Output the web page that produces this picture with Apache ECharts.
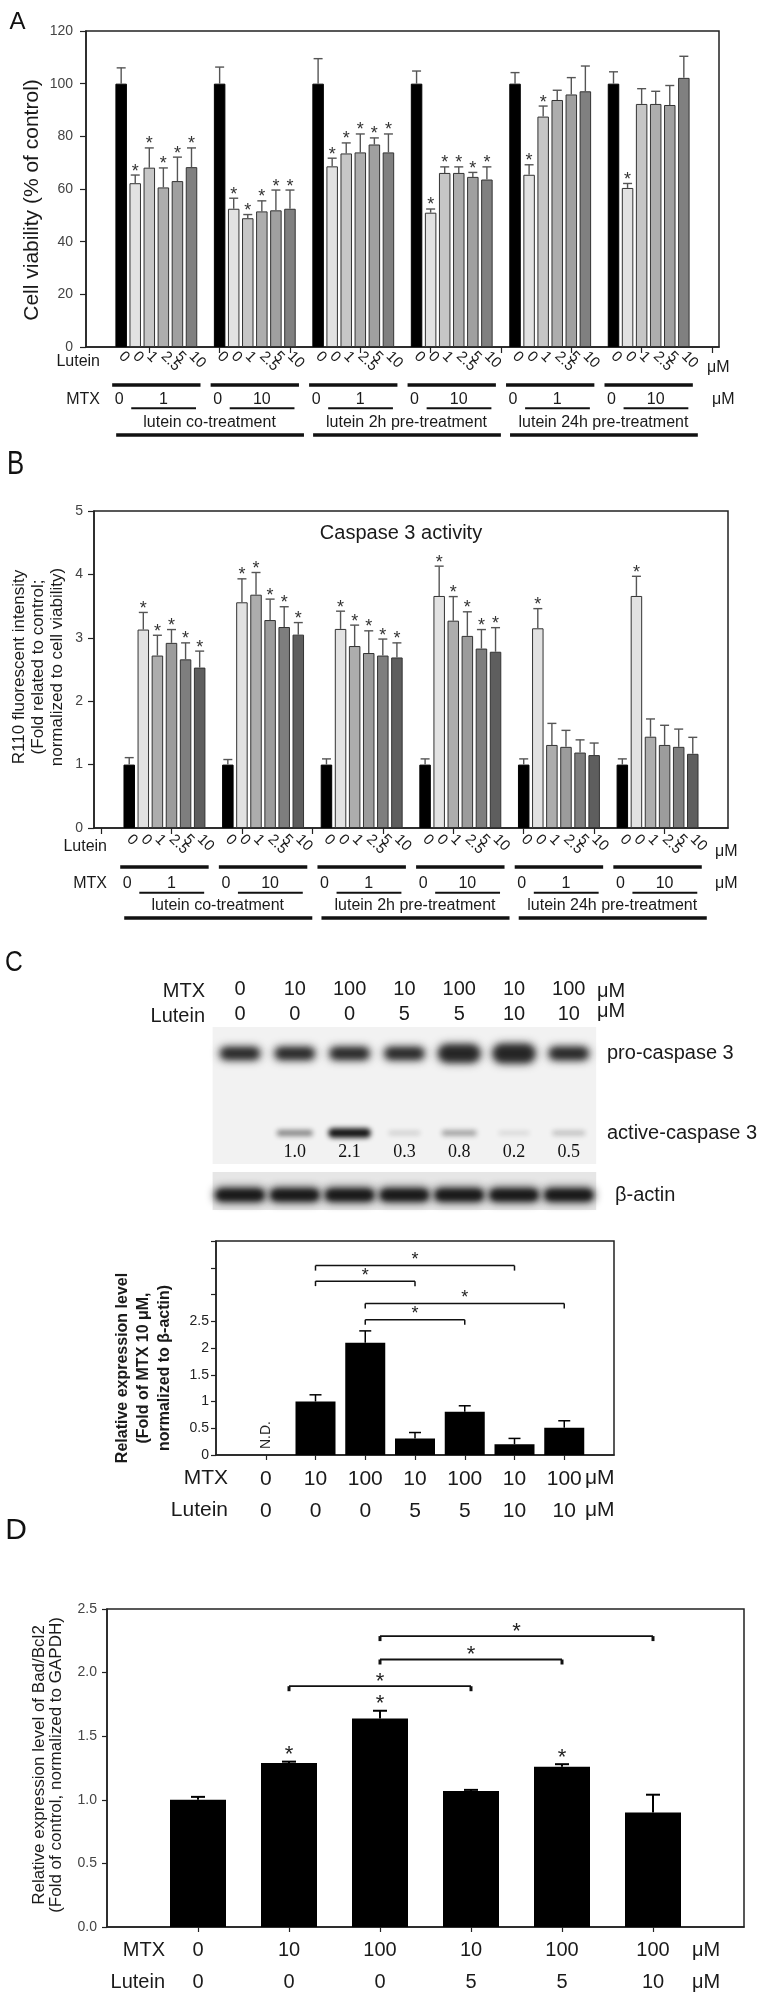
<!DOCTYPE html>
<html><head><meta charset="utf-8">
<script src="https://cdn.jsdelivr.net/npm/echarts@6/dist/echarts.min.js"></script>
<style>html,body{margin:0;padding:0;background:#fff}#c{width:782px;height:1998px}</style>
</head><body><div id="c"></div>
<script>
// ================= DATA =================
// Panels A and B: six groups of six bars (MTX 0 / lutein 0, then MTX with lutein 0,1,2.5,5,10)
const luteinDoses = ['0', '0', '1', '2.5', '5', '10'];
const groupMTX = ['1', '10', '1', '10', '1', '10'];
const treatments = ['lutein co-treatment', 'lutein 2h pre-treatment', 'lutein 24h pre-treatment'];

// A: cell viability (% of control)
const viaCo1 = [100, 62.2, 68.1, 60.6, 63.0, 68.3];
const viaCo1Err = [6.0, 3.1, 7.5, 7.4, 9.1, 7.3];
const viaCo10 = [100, 52.5, 48.9, 51.5, 51.9, 52.5];
const viaCo10Err = [6.3, 4.0, 1.4, 4.0, 7.7, 7.1];
const viaPre2h1 = [100, 68.6, 73.5, 73.9, 76.9, 73.9];
const viaPre2h1Err = [9.5, 3.1, 4.0, 7.0, 2.5, 7.0];
const viaPre2h10 = [100, 51.0, 66.1, 66.1, 64.6, 63.6];
const viaPre2h10Err = [4.8, 1.4, 2.3, 2.3, 1.7, 4.8];
const viaPre24h1 = [100, 65.4, 87.5, 93.8, 95.9, 97.1];
const viaPre24h1Err = [4.2, 3.8, 4.0, 3.7, 6.4, 9.6];
const viaPre24h10 = [100, 60.4, 92.3, 92.3, 91.9, 102.2];
const viaPre24h10Err = [4.5, 1.7, 5.8, 4.8, 7.4, 8.2];
const viaStars = [[0,1,1,1,1,1],[0,1,1,1,1,1],[0,1,1,1,1,1],[0,1,1,1,1,1],[0,1,1,0,0,0],[0,1,0,0,0,0]];

// B: caspase 3 activity (R110 fluorescence, fold of control)
const casCo1 = [1.0, 3.13, 2.72, 2.92, 2.66, 2.53];
const casCo1Err = [0.11, 0.27, 0.32, 0.21, 0.26, 0.26];
const casCo10 = [1.0, 3.56, 3.68, 3.28, 3.17, 3.05];
const casCo10Err = [0.08, 0.37, 0.35, 0.33, 0.32, 0.19];
const casPre2h1 = [1.0, 3.14, 2.87, 2.76, 2.72, 2.69];
const casPre2h1Err = [0.09, 0.28, 0.33, 0.35, 0.26, 0.23];
const casPre2h10 = [1.0, 3.66, 3.27, 3.03, 2.83, 2.78];
const casPre2h10Err = [0.09, 0.47, 0.38, 0.38, 0.30, 0.38];
const casPre24h1 = [1.0, 3.15, 1.31, 1.28, 1.19, 1.15];
const casPre24h1Err = [0.09, 0.31, 0.34, 0.26, 0.20, 0.19];
const casPre24h10 = [1.0, 3.66, 1.44, 1.31, 1.28, 1.17];
const casPre24h10Err = [0.09, 0.31, 0.28, 0.31, 0.28, 0.26];
const casStars = [[0,1,1,1,1,1],[0,1,1,1,1,1],[0,1,1,1,1,1],[0,1,1,1,1,1],[0,1,0,0,0,0],[0,1,0,0,0,0]];

// C: western blot lanes and quantification
const cMTX = ['0', '10', '100', '10', '100', '10', '100'];
const cLutein = ['0', '0', '0', '5', '5', '10', '10'];
const proCaspaseBand = [1.0, 1.0, 1.0, 1.0, 1.6, 1.7, 1.05];
const activeCaspaseBand = [0, 1.0, 2.1, 0.3, 0.8, 0.2, 0.5];
const actinBand = [1, 1, 1, 1, 1, 1, 1];
const cRelExpr = [null, 1.0, 2.1, 0.31, 0.81, 0.2, 0.51];
const cRelExprErr = [0, 0.125, 0.22, 0.11, 0.11, 0.11, 0.13];
const cBrackets = [[1, 5, 3.54], [1, 3, 3.25], [2, 6, 2.83], [2, 4, 2.53]];

// D: Bad/Bcl2
const dMTX = ['0', '10', '100', '10', '100', '100'];
const dLutein = ['0', '0', '0', '5', '5', '10'];
const badBcl2 = [1.0, 1.29, 1.64, 1.07, 1.26, 0.90];
const badBcl2Err = [0.023, 0.01, 0.06, 0.008, 0.02, 0.14];
const badBcl2Star = [0, 1, 1, 0, 1, 0];
const dBrackets = [[1, 3, 1.893], [2, 4, 2.103], [2, 5, 2.287]];

// ================= BUILD =================
const FONT = "'Liberation Sans', Arial, Helvetica, sans-serif";
const SERIF = "'Liberation Serif', 'Times New Roman', serif";
const TXT = '#1a1a1a';
const SLOTS = 45, SLOT0 = 2, GSTEP = 7;
const slotOf = (g, b) => SLOT0 + g * GSTEP + b;
const slotNames = Array.from({length: SLOTS}, (_, i) => 's' + i);
function slotLabel(i) {
  const k = i - SLOT0; if (k < 0) return '';
  const g = Math.floor(k / GSTEP), b = k % GSTEP;
  return (g > 5 || b > 5) ? '' : luteinDoses[b];
}
const groupsA = [viaCo1, viaCo10, viaPre2h1, viaPre2h10, viaPre24h1, viaPre24h10];
const errsA = [viaCo1Err, viaCo10Err, viaPre2h1Err, viaPre2h10Err, viaPre24h1Err, viaPre24h10Err];
const groupsB = [casCo1, casCo10, casPre2h1, casPre2h10, casPre24h1, casPre24h10];
const errsB = [casCo1Err, casCo10Err, casPre2h1Err, casPre2h10Err, casPre24h1Err, casPre24h10Err];
const colorsA = ['#000000', '#e2e2e2', '#c6c6c6', '#adadad', '#a0a0a0', '#808080'];
const colorsB = ['#000000', '#e2e2e2', '#adadad', '#9c9c9c', '#7e7e7e', '#5e5e5e'];

function buildBars(groups, colors) {
  const d = new Array(SLOTS).fill('-');
  groups.forEach((arr, g) => arr.forEach((v, b) => {
    d[slotOf(g, b)] = {value: v, itemStyle: {color: colors[b], borderColor: b === 0 ? '#000' : '#333', borderWidth: 1}};
  }));
  return d;
}
function buildErr(groups, errs, stars) {
  const out = [];
  groups.forEach((arr, g) => arr.forEach((v, b) => out.push([slotOf(g, b), v, errs[g][b], stars[g][b]])));
  return out;
}
function txt(s, x, y, size, align, color, extra) {
  extra = extra || {};
  const o = {type: 'text', x: x, y: y, z: 50,
    style: {text: s, font: (extra.weight ? extra.weight + ' ' : '') + size + 'px ' + (extra.family || FONT),
      fill: color || TXT, align: align || 'center', textAlign: align || 'center',
      verticalAlign: 'middle', textVerticalAlign: 'middle'}};
  if (extra.rotation) o.rotation = extra.rotation;
  if (extra.scaleX) o.scaleX = extra.scaleX;
  if (extra.lineHeight) { o.style.lineHeight = extra.lineHeight; o.style.textLineHeight = extra.lineHeight; }
  return o;
}
function seg(x1, y1, x2, y2, lw, color) {
  return {type: 'line', z: 50, shape: {x1, y1, x2, y2}, style: {stroke: color || '#111', lineWidth: lw}};
}
function errRender(cfg) {
  return function (params, api) {
    const x = api.value(0), v = api.value(1), e = api.value(2), s = api.value(3);
    const p0 = api.coord([x, v]), p1 = api.coord([x, v + e]);
    const ch = [
      {type: 'line', shape: {x1: p0[0], y1: p0[1], x2: p1[0], y2: p1[1]}, style: {stroke: cfg.color, lineWidth: cfg.lw}},
      {type: 'line', shape: {x1: p1[0] - cfg.cap, y1: p1[1], x2: p1[0] + cfg.cap, y2: p1[1]}, style: {stroke: cfg.color, lineWidth: cfg.lw}}
    ];
    if (s) ch.push(txt('*', p1[0], p1[1] - cfg.starGap, cfg.starSize, 'center', cfg.starColor));
    return {type: 'group', children: ch};
  };
}
function bracketRender(cfg) {
  return function (params, api) {
    const a = api.value(0), b = api.value(1), y = api.value(2);
    const p1 = api.coord([a + 1, y]), p2 = api.coord([b + 1, y]);
    return {type: 'group', children: [
      {type: 'line', shape: {x1: p1[0], y1: p1[1], x2: p2[0], y2: p2[1]}, style: {stroke: '#111', lineWidth: cfg.lw}},
      {type: 'line', shape: {x1: p1[0], y1: p1[1], x2: p1[0], y2: p1[1] + cfg.leg}, style: {stroke: '#111', lineWidth: cfg.legLw}},
      {type: 'line', shape: {x1: p2[0], y1: p2[1], x2: p2[0], y2: p2[1] + cfg.leg}, style: {stroke: '#111', lineWidth: cfg.legLw}},
      txt('*', (p1[0] + p2[0]) / 2, p1[1] - cfg.starGap, cfg.starSize, 'center', '#222')
    ]};
  };
}
// blurred blot band: the shape is drawn far off to the left and only its soft shadow lands on the lane
const OFF = 3000;
function blotRender(params, api) {
  const lane = api.value(0), pro = api.value(1), act = api.value(2), actin = api.value(3);
  const cs = params.coordSys;
  const cx = api.coord([lane, 0])[0];
  const ch = [];
  if (params.dataIndex === 0) {
    ch.push({type: 'rect', shape: {x: cs.x, y: cs.y, width: cs.width, height: 137}, style: {fill: '#f2f2f2'}});
    ch.push({type: 'rect', shape: {x: cs.x, y: cs.y + 145, width: cs.width, height: 38}, style: {fill: '#e6e6e6'}});
  }
  const band = (cy, w, h, a, blur) => ({type: 'rect',
    shape: {x: cx - w / 2 - OFF, y: cy - h / 2, width: w, height: h, r: h / 2},
    style: {fill: 'rgba(20,20,20,' + a + ')', shadowBlur: blur, shadowOffsetX: OFF, shadowOffsetY: 0,
      shadowColor: 'rgba(20,20,20,' + a + ')'}});
  // draw twice to deepen the core of the band
  const proH = 14 + 9 * (pro - 1);
  ch.push(band(cs.y + 26.5, 42 + 4 * (pro - 1), proH, 0.85, 8));
  ch.push(band(cs.y + 26.5, 36 + 4 * (pro - 1), proH - 5, 0.85, 6));
  if (act > 0) {
    ch.push(band(cs.y + 106, 30 + 6 * act, 3 + 3.2 * act, Math.min(1, 0.3 + 0.4 * act), 5));
    ch.push(txt(act.toFixed(1), cx, cs.y + 125, 18, 'center', '#111', {family: SERIF}));
  }
  ch.push(band(cs.y + 168, 52, 15 * actin, 0.95, 8));
  ch.push(band(cs.y + 168, 46, 9 * actin, 0.9, 5));
  return {type: 'group', children: ch};
}

const GRIDBOX = {show: true, borderColor: '#222', borderWidth: 1.5, backgroundColor: 'rgba(0,0,0,0)', containLabel: false, outerBoundsMode: 'none'};
const yBase = (extra) => Object.assign({type: 'value', splitLine: {show: false},
  axisLine: {show: true, lineStyle: {color: '#222', width: 1.5}},
  axisTick: {show: true, inside: false, length: 6, lineStyle: {color: '#222', width: 1.2}}}, extra);

const option = {
  animation: false,
  textStyle: {fontFamily: FONT},
  grid: [
    Object.assign({left: 86, top: 31, width: 633, height: 316}, GRIDBOX),
    Object.assign({left: 94, top: 511, width: 634, height: 317}, GRIDBOX),
    {left: 212.6, top: 1027, width: 383.6, height: 183, show: false, containLabel: false, outerBoundsMode: 'none'},
    Object.assign({left: 216, top: 1241, width: 398, height: 214}, GRIDBOX),
    Object.assign({left: 107, top: 1609, width: 637, height: 318}, GRIDBOX)
  ],
  xAxis: [
    {gridIndex: 0, type: 'category', data: slotNames, boundaryGap: true,
      axisLine: {lineStyle: {color: '#222', width: 1.5}},
      axisTick: {show: true, alignWithLabel: true, interval: (i) => i % 5 === 4, length: 6, lineStyle: {color: '#222', width: 1.2}},
      axisLabel: {interval: 0, hideOverlap: false, rotate: -45, formatter: (v, i) => slotLabel(i), fontSize: 15, color: TXT, margin: 7}},
    {gridIndex: 1, type: 'category', data: slotNames, boundaryGap: true,
      axisLine: {lineStyle: {color: '#222', width: 1.5}},
      axisTick: {show: true, alignWithLabel: true, interval: (i) => i % 5 === 0, length: 6, lineStyle: {color: '#222', width: 1.2}},
      axisLabel: {interval: 0, hideOverlap: false, rotate: -45, formatter: (v, i) => slotLabel(i), fontSize: 15, color: TXT, margin: 9}},
    {gridIndex: 2, type: 'category', position: 'top', data: cMTX.map((_, i) => 'L' + i), boundaryGap: true,
      axisLine: {show: false}, axisTick: {show: false},
      axisLabel: {interval: 0, hideOverlap: false, formatter: (v, i) => cMTX[i] + '\n' + cLutein[i], fontSize: 20, lineHeight: 25, margin: 0, color: TXT}},
    {gridIndex: 3, type: 'category', data: Array.from({length: 9}, (_, i) => 'c' + i), boundaryGap: false,
      axisLine: {lineStyle: {color: '#222', width: 1.5}},
      axisTick: {show: true, interval: (i) => i >= 1 && i <= 7, length: 5, lineStyle: {color: '#222', width: 1.2}},
      axisLabel: {interval: 0, hideOverlap: false, formatter: (v, i) => (i >= 1 && i <= 7) ? cMTX[i - 1] + '\n' + cLutein[i - 1] : '', fontSize: 21, lineHeight: 32, margin: 8, color: TXT}},
    {gridIndex: 4, type: 'category', data: Array.from({length: 8}, (_, i) => 'd' + i), boundaryGap: false,
      axisLine: {lineStyle: {color: '#222', width: 1.5}},
      axisTick: {show: true, interval: (i) => i >= 1 && i <= 6, length: 5, lineStyle: {color: '#222', width: 1.2}},
      axisLabel: {interval: 0, hideOverlap: false, formatter: (v, i) => (i >= 1 && i <= 6) ? dMTX[i - 1] + '\n' + dLutein[i - 1] : '', fontSize: 20, lineHeight: 32, margin: 7, color: TXT}}
  ],
  yAxis: [
    yBase({gridIndex: 0, min: 0, max: 120, interval: 20, axisLabel: {fontSize: 14, color: '#444', margin: 13}}),
    yBase({gridIndex: 1, min: 0, max: 5, interval: 1, axisLabel: {fontSize: 14, color: '#444', margin: 11}}),
    {gridIndex: 2, type: 'value', min: 0, max: 1, show: false},
    yBase({gridIndex: 3, min: 0, max: 4, interval: 0.5, axisTick: {show: true, length: 5, lineStyle: {color: '#222', width: 1.2}},
      axisLabel: {fontSize: 14, color: '#222', margin: 7, formatter: (v) => v > 2.5 ? '' : String(v)}}),
    yBase({gridIndex: 4, min: 0, max: 2.5, interval: 0.5, axisTick: {show: true, length: 5, lineStyle: {color: '#222', width: 1.2}},
      axisLabel: {fontSize: 14, color: '#444', margin: 10, formatter: (v) => v.toFixed(1)}})
  ],
  series: [
    {type: 'bar', xAxisIndex: 0, yAxisIndex: 0, barWidth: 11.5, data: buildBars(groupsA, colorsA)},
    {type: 'custom', xAxisIndex: 0, yAxisIndex: 0, z: 3, encode: {x: 0, y: 1},
      renderItem: errRender({color: '#555', lw: 1.4, cap: 4.5, starGap: 3.5, starSize: 18, starColor: '#333'}),
      data: buildErr(groupsA, errsA, viaStars)},
    {type: 'bar', xAxisIndex: 1, yAxisIndex: 1, barWidth: 11.5, data: buildBars(groupsB, colorsB)},
    {type: 'custom', xAxisIndex: 1, yAxisIndex: 1, z: 3, encode: {x: 0, y: 1},
      renderItem: errRender({color: '#555', lw: 1.4, cap: 4.5, starGap: 3.5, starSize: 18, starColor: '#333'}),
      data: buildErr(groupsB, errsB, casStars)},
    {type: 'custom', xAxisIndex: 2, yAxisIndex: 2, encode: {x: 0, y: 1}, renderItem: blotRender,
      data: cMTX.map((_, i) => [i, proCaspaseBand[i], activeCaspaseBand[i], actinBand[i]])},
    {type: 'bar', xAxisIndex: 3, yAxisIndex: 3, barWidth: 40, itemStyle: {color: '#000'},
      data: ['-'].concat(cRelExpr.map(v => v == null ? '-' : v), ['-'])},
    {type: 'custom', xAxisIndex: 3, yAxisIndex: 3, z: 3, encode: {x: 0, y: 1},
      renderItem: errRender({color: '#000', lw: 1.5, cap: 6, starGap: 5, starSize: 18, starColor: '#222'}),
      data: cRelExpr.map((v, i) => v == null ? null : [i + 1, v, cRelExprErr[i], 0]).filter(Boolean)},
    {type: 'custom', xAxisIndex: 3, yAxisIndex: 3, z: 3, encode: {x: [0, 1], y: 2},
      renderItem: bracketRender({lw: 1.5, legLw: 1.5, leg: 5, starGap: 5.5, starSize: 18}), data: cBrackets},
    {type: 'custom', xAxisIndex: 3, yAxisIndex: 3, z: 3, encode: {x: 0, y: 1},
      renderItem: (params, api) => {
        const p = api.coord([api.value(0), 0]);
        return txt('N.D.', p[0], p[1] - 20, 14, 'center', '#222', {rotation: Math.PI / 2});
      },
      data: cRelExpr.map((v, i) => v == null ? [i + 1, 0] : null).filter(Boolean)},
    {type: 'bar', xAxisIndex: 4, yAxisIndex: 4, barWidth: 56, itemStyle: {color: '#000'},
      data: ['-'].concat(badBcl2, ['-'])},
    {type: 'custom', xAxisIndex: 4, yAxisIndex: 4, z: 3, encode: {x: 0, y: 1},
      renderItem: errRender({color: '#000', lw: 2, cap: 7, starGap: 6.5, starSize: 22, starColor: '#222'}),
      data: badBcl2.map((v, i) => [i + 1, v, badBcl2Err[i], badBcl2Star[i]])},
    {type: 'custom', xAxisIndex: 4, yAxisIndex: 4, z: 3, encode: {x: [0, 1], y: 2},
      renderItem: bracketRender({lw: 1.8, legLw: 3, leg: 5, starGap: 4.5, starSize: 22}), data: dBrackets}
  ]
};

const chart = echarts.init(document.getElementById('c'), null, {renderer: 'canvas', width: 782, height: 1998});
chart.setOption(option);

// ================= ANNOTATIONS =================
const G = [];
function panelRows(ax, o) {
  const conv = (slot) => chart.convertToPixel({xAxisIndex: ax, yAxisIndex: ax}, [slot, 0]);
  const y0 = conv(0)[1];
  for (let g = 0; g < 6; g++) {
    const s0 = slotOf(g, 0);
    const xb = conv(s0)[0], x1 = conv(s0 + 1)[0], x5 = conv(s0 + 5)[0];
    G.push(seg(xb - 9, y0 + o.row, x5 + 9, y0 + o.row, 3.5));
    G.push(txt('0', xb - 2, y0 + o.mtx, 16, 'center'));
    G.push(txt(groupMTX[g], (x1 + x5) / 2, y0 + o.mtx, 16, 'center'));
    G.push(seg(x1 - 4, y0 + o.under, x5 + 4.5, y0 + o.under, 2));
  }
  for (let t = 0; t < 3; t++) {
    const xa = conv(slotOf(2 * t, 0))[0], xz = conv(slotOf(2 * t + 1, 5))[0];
    G.push(seg(xa - 5, y0 + o.long, xz + 14, y0 + o.long, 3.5));
    G.push(txt(treatments[t], (xa + xz) / 2 + 4, y0 + o.treat, 16, 'center'));
  }
  G.push(txt('Lutein', o.hdrX, y0 + o.lut, 16, 'right'));
  G.push(txt('μM', o.umX, y0 + o.lutUm, 16, 'left'));
  G.push(txt('MTX', o.hdrX, y0 + o.mtx, 16, 'right'));
  G.push(txt('μM', o.umX2, y0 + o.mtx, 16, 'left'));
}
panelRows(0, {row: 38, mtx: 52.3, under: 61.3, treat: 75.7, long: 88, lut: 14.7, lutUm: 21, hdrX: 100, umX: 707, umX2: 712});
panelRows(1, {row: 39, mtx: 55.3, under: 64.7, treat: 78, long: 90, lut: 18.7, lutUm: 23.7, hdrX: 107, umX: 715, umX2: 715});

// panel letters
G.push(txt('A', 17.5, 22, 24, 'center', '#111'));
G.push(txt('B', 15.5, 465, 33, 'center', '#111', {scaleX: 0.78}));
G.push(txt('C', 14, 962.5, 29, 'center', '#111', {scaleX: 0.85}));
G.push(txt('D', 16, 1531, 30, 'center', '#111'));

// axis titles
G.push(txt('Cell viability (% of control)', 32, 200, 21, 'center', TXT, {rotation: Math.PI / 2}));
G.push(txt('R110 fluorescent intensity\n(Fold related to control;\nnormalized to cell viability)', 38, 667, 17, 'center', TXT, {rotation: Math.PI / 2, lineHeight: 19}));
G.push(txt('Relative expression level\n(Fold of MTX 10 μM,\nnormalized to β-actin)', 144, 1368, 16, 'center', TXT, {rotation: Math.PI / 2, lineHeight: 21, weight: 'bold'}));
G.push(txt('Relative expression level of Bad/Bcl2\n(Fold of control, normalized to GAPDH)', 48, 1765, 17, 'center', TXT, {rotation: Math.PI / 2, lineHeight: 17.5}));
G.push(txt('Caspase 3 activity', 401, 533, 20, 'center', TXT));

// blot headers and band names
(function () {
  const top = chart.convertToPixel({xAxisIndex: 2, yAxisIndex: 2}, [0, 1])[1];
  G.push(txt('MTX', 205, top - 35.3, 20, 'right'));
  G.push(txt('Lutein', 205, top - 10.3, 20, 'right'));
  G.push(txt('μM', 597, top - 35.3, 20, 'left'));
  G.push(txt('μM', 597, top - 15.3, 20, 'left'));
  G.push(txt('pro-caspase 3', 607, top + 26.5, 20, 'left'));
  G.push(txt('active-caspase 3', 607, top + 106, 20, 'left'));
  G.push(txt('β-actin', 615, top + 168, 20, 'left'));
})();
// C and D x-axis row headers
(function () {
  const yc = chart.convertToPixel({xAxisIndex: 3, yAxisIndex: 3}, [0, 0])[1];
  G.push(txt('MTX', 228, yc + 23.5, 21, 'right'));
  G.push(txt('Lutein', 228, yc + 55, 21, 'right'));
  G.push(txt('μM', 585, yc + 23.5, 21, 'left'));
  G.push(txt('μM', 585, yc + 55, 21, 'left'));
  const yd = chart.convertToPixel({xAxisIndex: 4, yAxisIndex: 4}, [0, 0])[1];
  G.push(txt('MTX', 165, yd + 23.3, 20, 'right'));
  G.push(txt('Lutein', 165, yd + 55, 20, 'right'));
  G.push(txt('μM', 692, yd + 23.3, 20, 'left'));
  G.push(txt('μM', 692, yd + 55, 20, 'left'));
})();

chart.setOption({graphic: G});
</script>
</body></html>
